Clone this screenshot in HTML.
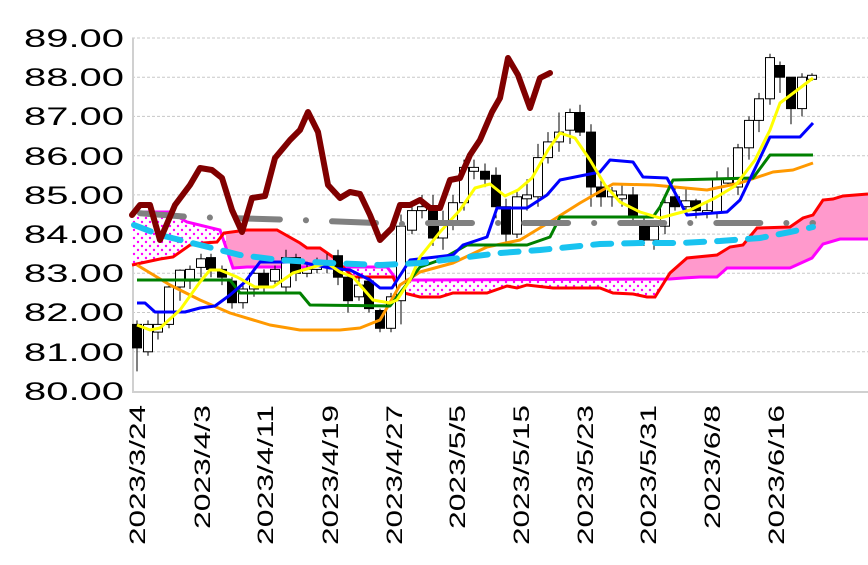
<!DOCTYPE html>
<html><head><meta charset="utf-8"><style>
html,body{margin:0;padding:0;background:#fff;}
svg{display:block;font-family:"Liberation Sans",sans-serif;}
</style></head><body>
<svg width="868" height="565" viewBox="0 0 868 565" xmlns="http://www.w3.org/2000/svg">
<defs>
<pattern id="dots" width="8" height="8" patternUnits="userSpaceOnUse">
<rect width="8" height="8" fill="#fff"/>
<circle cx="2" cy="2" r="1.2" fill="#FF00FF"/>
<circle cx="6" cy="6" r="1.2" fill="#FF00FF"/>
</pattern>
<clipPath id="pk"><rect x="226" y="0" width="112" height="400"/><rect x="663" y="0" width="210" height="400"/></clipPath>
</defs>
<g stroke="#c8c8c8" stroke-width="1" stroke-dasharray="3 2">
<line x1="132" y1="38" x2="868" y2="38"/><line x1="132" y1="77.2" x2="868" y2="77.2"/>
<line x1="132" y1="116.4" x2="868" y2="116.4"/><line x1="132" y1="155.7" x2="868" y2="155.7"/>
<line x1="132" y1="194.9" x2="868" y2="194.9"/><line x1="132" y1="234.1" x2="868" y2="234.1"/>
<line x1="132" y1="273.3" x2="868" y2="273.3"/><line x1="132" y1="312.5" x2="868" y2="312.5"/>
<line x1="132" y1="351.8" x2="868" y2="351.8"/>
</g>
<line x1="133" y1="38" x2="133" y2="392" stroke="#d0d0d0" stroke-width="2"/>
<line x1="132" y1="392" x2="868" y2="392" stroke="#d0d0d0" stroke-width="2"/>
<g font-size="25" fill="#000" text-anchor="end">
<text x="124" y="47" textLength="100" lengthAdjust="spacingAndGlyphs">89.00</text>
<text x="124" y="86" textLength="100" lengthAdjust="spacingAndGlyphs">88.00</text>
<text x="124" y="125" textLength="100" lengthAdjust="spacingAndGlyphs">87.00</text>
<text x="124" y="165" textLength="100" lengthAdjust="spacingAndGlyphs">86.00</text>
<text x="124" y="204" textLength="100" lengthAdjust="spacingAndGlyphs">85.00</text>
<text x="124" y="243" textLength="100" lengthAdjust="spacingAndGlyphs">84.00</text>
<text x="124" y="282" textLength="100" lengthAdjust="spacingAndGlyphs">83.00</text>
<text x="124" y="321" textLength="100" lengthAdjust="spacingAndGlyphs">82.00</text>
<text x="124" y="361" textLength="100" lengthAdjust="spacingAndGlyphs">81.00</text>
<text x="124" y="400" textLength="100" lengthAdjust="spacingAndGlyphs">80.00</text>
</g>
<g font-size="22" fill="#000" text-anchor="end">
<text transform="translate(145,405) rotate(-90)" textLength="140" lengthAdjust="spacingAndGlyphs">2023/3/24</text>
<text transform="translate(210,405) rotate(-90)" textLength="124" lengthAdjust="spacingAndGlyphs">2023/4/3</text>
<text transform="translate(273,405) rotate(-90)" textLength="140" lengthAdjust="spacingAndGlyphs">2023/4/11</text>
<text transform="translate(338,405) rotate(-90)" textLength="140" lengthAdjust="spacingAndGlyphs">2023/4/19</text>
<text transform="translate(402,405) rotate(-90)" textLength="140" lengthAdjust="spacingAndGlyphs">2023/4/27</text>
<text transform="translate(465,405) rotate(-90)" textLength="124" lengthAdjust="spacingAndGlyphs">2023/5/5</text>
<text transform="translate(529,405) rotate(-90)" textLength="140" lengthAdjust="spacingAndGlyphs">2023/5/15</text>
<text transform="translate(593,405) rotate(-90)" textLength="140" lengthAdjust="spacingAndGlyphs">2023/5/23</text>
<text transform="translate(656,405) rotate(-90)" textLength="140" lengthAdjust="spacingAndGlyphs">2023/5/31</text>
<text transform="translate(720,405) rotate(-90)" textLength="124" lengthAdjust="spacingAndGlyphs">2023/6/8</text>
<text transform="translate(784,405) rotate(-90)" textLength="140" lengthAdjust="spacingAndGlyphs">2023/6/16</text>
</g>
<!-- cloud -->
<polygon fill="url(#dots)" points="132,265 160,259 173,257 190,245 203,243 217,242 224,233 247,230 277,230 300,243 307,248 320,248 333,257 353,277 393,277 400,292 420,297 440,297 453,293 487,293 507,286 517,288 527,285 553,288 580,288 600,288 613,293 633,294 647,297 655,297 670,273 687,258 717,255 730,247 743,245 757,228 790,227 803,218 813,215 823,200 833,199 843,196 868,194 868,239 860,239 840,239 823,244 812,258 790,268 727,268 717,277 700,277 683,278 670,279 420,280 397,280 387,267 340,267 327,265 320,267 247,267 233,268 220,230 187,222 170,212 132,212"/>
<polygon clip-path="url(#pk)" fill="#FF99CC" points="132,265 160,259 173,257 190,245 203,243 217,242 224,233 247,230 277,230 300,243 307,248 320,248 333,257 353,277 393,277 400,292 420,297 440,297 453,293 487,293 507,286 517,288 527,285 553,288 580,288 600,288 613,293 633,294 647,297 655,297 670,273 687,258 717,255 730,247 743,245 757,228 790,227 803,218 813,215 823,200 833,199 843,196 868,194 868,239 860,239 840,239 823,244 812,258 790,268 727,268 717,277 700,277 683,278 670,279 420,280 397,280 387,267 340,267 327,265 320,267 247,267 233,268 220,230 187,222 170,212 132,212"/>
<polyline fill="none" stroke="#FF00FF" stroke-width="3" points="132,212 170,212 187,222 220,230 233,268 247,267 320,267 327,265 340,267 387,267 397,280 420,280 670,279 683,278 700,277 717,277 727,268 790,268 812,258 823,244 840,239 868,239"/>
<polyline fill="none" stroke="#FF0000" stroke-width="3" points="132,265 160,259 173,257 190,245 203,243 217,242 224,233 247,230 277,230 300,243 307,248 320,248 333,257 353,277 393,277 400,292 420,297 440,297 453,293 487,293 507,286 517,288 527,285 553,288 580,288 600,288 613,293 633,294 647,297 655,297 670,273 687,258 717,255 730,247 743,245 757,228 790,227 803,218 813,215 823,200 833,199 843,196 868,194"/>
<!-- candles: wicks -->
<path stroke="#000" stroke-width="1" fill="none" d="M137,320.4V371.4M148,320.4V355.7M158,312.5V339.5M169,285.1V328.3M180,269.4V300.7M190,265.5V289M201,253.7V277.2M211,253.7V277.2M222,265.5V285.1M232,277.2V308.6M243,281.1V308.6M254,269.4V296.8M264,269.4V292.9M275,265.5V285.1M286,249.8V292.9M296,253.7V281.1M307,261.6V277.2M317,257.6V273.3M327,253.7V273.3M338,249.8V285.1M348,273.3V312.5M359,277.2V300.7M369,277.2V312.5M380,308.6V332.2M391,292.9V332.2M401,214.5V324.4M412,202.7V234.1M422,194.9V218.4M433,194.9V245.9M443,210.6V249.8M453,194.9V230.2M464,159.6V210.6M474,159.6V179.2M485,163.5V187.1M496,167.4V218.4M506,198.8V241.9M517,191V238M527,179.2V210.6M538,143.9V206.7M548,132.1V163.5M559,112.5V151.7M570,108.6V143.9M580,104.7V136M591,124.3V206.7M601,179.2V206.7M612,187V206.7M622,183.1V206.7M633,187V222.3M644,218.4V245.9M654,222.3V249.8M665,194.9V234.1M675,187V210.6M686,187V214.5M696,198.8V218.4M707,202.7V218.4M717,171.3V218.4M728,167.4V187M738,143.9V194.9M749,116.4V159.6M759,92.9V132.1M770,53.7V104.7M780,61.5V92.9M791,77.2V124.3M802,73.3V116.4M812,73.3V81"/>
<g stroke="#000" stroke-width="1">
<rect x="132.5" y="324.4" width="9" height="23.5" fill="#000"/>
<rect x="143.5" y="324.4" width="9" height="27.4" fill="#fff"/>
<rect x="153.5" y="324.4" width="9" height="7.7" fill="#fff"/>
<rect x="164.5" y="287" width="9" height="37.4" fill="#fff"/>
<rect x="175.5" y="270.2" width="9" height="16.8" fill="#fff"/>
<rect x="185.5" y="269.4" width="9" height="11.7" fill="#fff"/>
<rect x="196.5" y="258.8" width="9" height="8.6" fill="#fff"/>
<rect x="206.5" y="257.6" width="9" height="11.8" fill="#000"/>
<rect x="217.5" y="269.4" width="9" height="7.8" fill="#000"/>
<rect x="227.5" y="281.1" width="9" height="21.6" fill="#000"/>
<rect x="238.5" y="289" width="9" height="13.7" fill="#fff"/>
<rect x="249.5" y="273.3" width="9" height="15.7" fill="#fff"/>
<rect x="259.5" y="273.3" width="9" height="11.8" fill="#000"/>
<rect x="270.5" y="269.4" width="9" height="11.7" fill="#fff"/>
<rect x="281.5" y="257.6" width="9" height="29.4" fill="#fff"/>
<rect x="291.5" y="257.6" width="9" height="15.7" fill="#000"/>
<rect x="302.5" y="269.4" width="9" height="3.9" fill="#fff"/>
<rect x="312.5" y="265.5" width="9" height="3.9" fill="#fff"/>
<rect x="322.5" y="261.6" width="9" height="3.9" fill="#fff"/>
<rect x="333.5" y="255.7" width="9" height="21.5" fill="#000"/>
<rect x="343.5" y="277.2" width="9" height="23.5" fill="#000"/>
<rect x="354.5" y="285.1" width="9" height="11.7" fill="#fff"/>
<rect x="364.5" y="281.1" width="9" height="27.5" fill="#000"/>
<rect x="375.5" y="310.5" width="9" height="17.8" fill="#000"/>
<rect x="386.5" y="296.8" width="9" height="31.5" fill="#fff"/>
<rect x="396.5" y="226.2" width="9" height="74.5" fill="#fff"/>
<rect x="407.5" y="210.6" width="9" height="19.6" fill="#fff"/>
<rect x="417.5" y="206.7" width="9" height="3.9" fill="#fff"/>
<rect x="428.5" y="206.7" width="9" height="31.3" fill="#000"/>
<rect x="438.5" y="222.3" width="9" height="15.7" fill="#fff"/>
<rect x="448.5" y="202.7" width="9" height="19.6" fill="#fff"/>
<rect x="459.5" y="167.4" width="9" height="35.3" fill="#fff"/>
<rect x="469.5" y="167.4" width="9" height="3.9" fill="#fff"/>
<rect x="480.5" y="171.3" width="9" height="7.9" fill="#000"/>
<rect x="491.5" y="175.3" width="9" height="31.4" fill="#000"/>
<rect x="501.5" y="206.7" width="9" height="27.4" fill="#000"/>
<rect x="512.5" y="196.8" width="9" height="37.3" fill="#fff"/>
<rect x="522.5" y="194.9" width="9" height="3.9" fill="#fff"/>
<rect x="533.5" y="157.6" width="9" height="39.2" fill="#fff"/>
<rect x="543.5" y="141.9" width="9" height="15.7" fill="#fff"/>
<rect x="554.5" y="132.1" width="9" height="9.8" fill="#fff"/>
<rect x="565.5" y="112.5" width="9" height="17.7" fill="#fff"/>
<rect x="575.5" y="112.5" width="9" height="19.6" fill="#000"/>
<rect x="586.5" y="132.1" width="9" height="54.9" fill="#000"/>
<rect x="596.5" y="187" width="9" height="9.8" fill="#000"/>
<rect x="607.5" y="191" width="9" height="5.8" fill="#fff"/>
<rect x="617.5" y="194.9" width="9" height="3.9" fill="#fff"/>
<rect x="628.5" y="194.9" width="9" height="21.6" fill="#000"/>
<rect x="639.5" y="226.2" width="9" height="13.8" fill="#000"/>
<rect x="649.5" y="226.2" width="9" height="13.8" fill="#fff"/>
<rect x="660.5" y="202.7" width="9" height="23.5" fill="#fff"/>
<rect x="670.5" y="196.8" width="9" height="9.9" fill="#000"/>
<rect x="681.5" y="200.8" width="9" height="5.9" fill="#fff"/>
<rect x="691.5" y="200.8" width="9" height="9.8" fill="#000"/>
<rect x="702.5" y="210.6" width="9" height="2" fill="#fff"/>
<rect x="712.5" y="179.2" width="9" height="33.3" fill="#fff"/>
<rect x="723.5" y="179.2" width="9" height="3.9" fill="#fff"/>
<rect x="733.5" y="147.8" width="9" height="39.2" fill="#fff"/>
<rect x="744.5" y="120.4" width="9" height="27.4" fill="#fff"/>
<rect x="754.5" y="98.8" width="9" height="21.6" fill="#fff"/>
<rect x="765.5" y="57.6" width="9" height="41.2" fill="#fff"/>
<rect x="775.5" y="65.5" width="9" height="11.7" fill="#000"/>
<rect x="786.5" y="77.2" width="9" height="31.4" fill="#000"/>
<rect x="797.5" y="77.2" width="9" height="31.4" fill="#fff"/>
<rect x="807.5" y="75.3" width="9" height="4" fill="#fff"/>
</g>
<!-- lines -->
<polyline fill="none" stroke="#FF9900" stroke-width="3" stroke-linejoin="round" points="137,265 170,285 200,300 230,313 270,325 300,330 340,330 360,328 380,320 400,285 420,272 453,263 487,247 520,240 553,220 580,203 613,184 653,185 707,190 740,183 773,172 793,170 813,163"/>
<polyline fill="none" stroke="#008000" stroke-width="3" stroke-linejoin="round" points="137,280 230,280 240,293 300,293 310,305 390,306 397,297 420,267 440,260 467,245 527,245 550,237 560,217 653,217 660,207 673,180 753,178 770,155 813,155"/>
<polyline fill="none" stroke="#0000FF" stroke-width="3" stroke-linejoin="round" points="137,303 145,303 155,312 185,312 200,308 215,306 230,295 245,282 260,262 300,262 330,268 350,270 370,280 380,288 392,288 410,260 453,255 463,245 487,237 497,208 527,208 547,195 560,180 600,172 610,160 633,162 643,177 667,178 687,215 727,212 740,200 770,137 800,137 813,123"/>
<polyline fill="none" stroke="#FFFF00" stroke-width="3" stroke-linejoin="round" points="137,325 150,330 160,328 180,310 200,282 210,270 220,270 237,277 255,287 273,287 293,273 310,268 327,263 340,272 353,277 373,300 390,303 397,300 410,280 420,257 440,232 460,210 475,188 490,184 505,196 518,190 532,178 548,150 560,133 575,138 590,160 605,185 620,202 640,212 660,218 675,214 690,210 715,198 735,186 755,160 770,130 780,103 800,88 813,78"/>
<path fill="none" stroke="#808080" stroke-width="6" stroke-linecap="round" stroke-dasharray="44 26 0.1 26" stroke-dashoffset="-3" d="M137,213 L190,217 L300,220 L400,224 L430,223 L813,223"/>
<path fill="none" stroke="#19C3F0" stroke-width="6" stroke-linecap="round" stroke-dasharray="18 13" d="M134,225 L160,235 L200,245 L240,255 L280,260 L330,263 L380,265 L420,263 L460,258 L500,253 L540,250 L580,246 L600,244 L640,243 L680,243 L720,241 L760,238 L790,232 L813,227"/>
<polyline fill="none" stroke="#800000" stroke-width="6" stroke-linejoin="round" stroke-linecap="round" points="132,215 140,205 150,205 160,240 175,205 190,185 200,168 212,170 222,178 232,210 242,232 252,198 265,196 275,158 290,140 300,130 308,112 318,132 328,185 340,198 350,192 360,194 370,215 380,240 392,228 400,205 410,205 420,200 430,208 440,208 450,180 460,178 470,155 480,140 492,112 500,98 508,58 518,75 530,108 540,78 550,73"/>
</svg>
</body></html>
